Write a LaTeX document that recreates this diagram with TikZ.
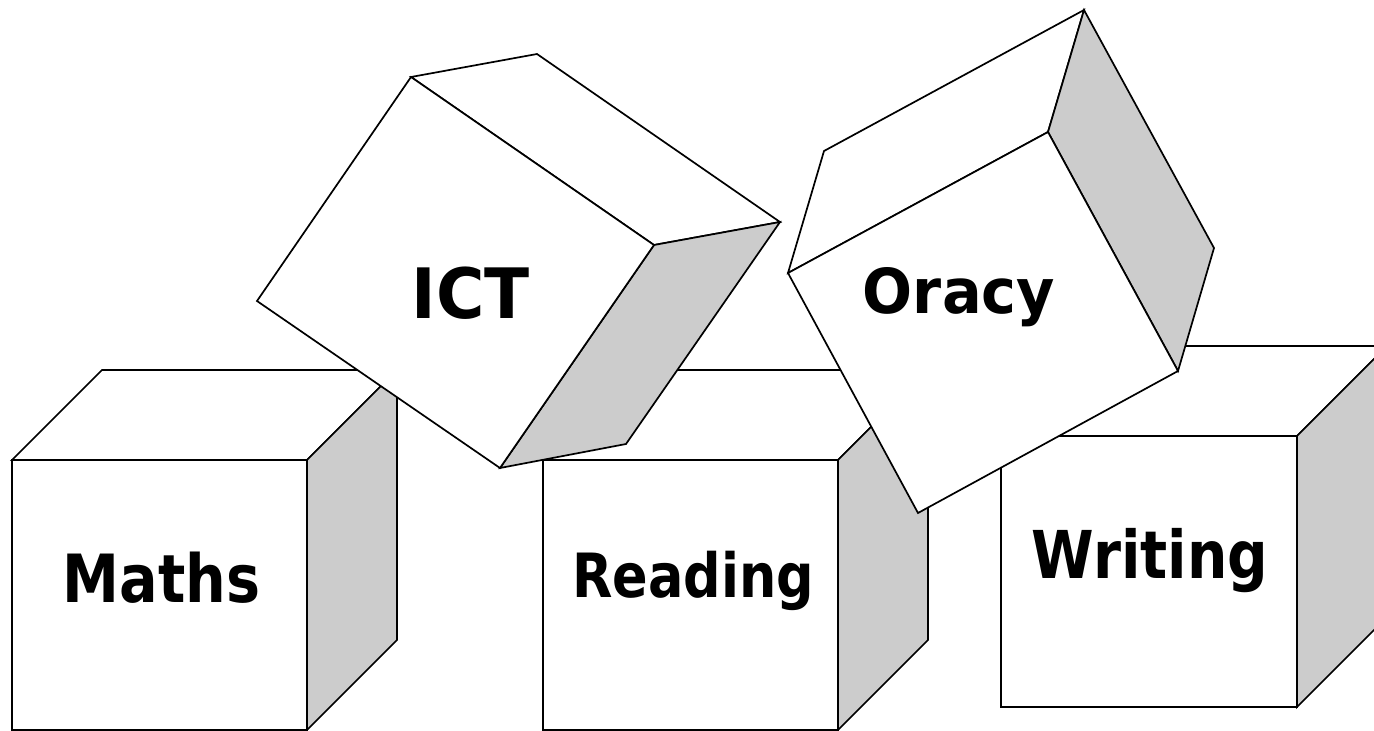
\documentclass[tikz,border=0pt]{standalone}
\usepackage{fontspec}
\newfontfamily\lblnarrow{DejaVu Sans}[FakeStretch=0.86]
\newfontfamily\lblwide{DejaVu Sans}[FakeStretch=0.95]
\definecolor{cubegray}{HTML}{CCCCCC}
\tikzset{
  face/.style={draw=black, line width=1.7pt, fill=white, line join=miter},
  sideface/.style={face, fill=cubegray},
  lbl/.style={anchor=base, inner sep=0pt, text=black},
}
\begin{document}
\begin{tikzpicture}[x=1pt,y=-1pt]
\useasboundingbox (0,0) rectangle (1374,731);
\clip (0,0) rectangle (1374,731);
\fill[white] (0,0) rectangle (1374,731);

% ---------- Maths cube ----------
\coordinate (m1) at (12,460);   \coordinate (m2) at (307,460);
\coordinate (m3) at (307,730);  \coordinate (m4) at (12,730);
\coordinate (m5) at (102,370);  \coordinate (m6) at (397,370);
\coordinate (m7) at (397,640);
\draw[face] (m1) -- (m5) -- (m6) -- (m2) -- cycle;
\draw[sideface] (m2) -- (m6) -- (m7) -- (m3) -- cycle;
\draw[face] (m1) -- (m2) -- (m3) -- (m4) -- cycle;
\node[lbl, font=\lblnarrow\bfseries\fontsize{66.5}{70}\selectfont] (maths) at (161.5,602) {Maths};

% ---------- Reading cube ----------
\coordinate (r1) at (543,460);  \coordinate (r2) at (838,460);
\coordinate (r3) at (838,730);  \coordinate (r4) at (543,730);
\coordinate (r5) at (633,370);  \coordinate (r6) at (928,370);
\coordinate (r7) at (928,640);
\draw[face] (r1) -- (r5) -- (r6) -- (r2) -- cycle;
\draw[sideface] (r2) -- (r6) -- (r7) -- (r3) -- cycle;
\draw[face] (r1) -- (r2) -- (r3) -- (r4) -- cycle;
\node[lbl, font=\lblnarrow\bfseries\fontsize{61}{64}\selectfont] (reading) at (693.5,597) {Reading};

% ---------- Writing cube ----------
\coordinate (w1) at (1001,436); \coordinate (w2) at (1297,436);
\coordinate (w3) at (1297,707); \coordinate (w4) at (1001,707);
\coordinate (w5) at (1091,346); \coordinate (w6) at (1387,346);
\coordinate (w7) at (1387,617);
\draw[face] (w1) -- (w5) -- (w6) -- (w2) -- cycle;
\draw[sideface] (w2) -- (w6) -- (w7) -- (w3) -- cycle;
\draw[face] (w1) -- (w2) -- (w3) -- (w4) -- cycle;
\node[lbl, font=\lblnarrow\bfseries\fontsize{66}{70}\selectfont] (writing) at (1150,578) {Writing};

% ---------- ICT cube (tilted) ----------
\coordinate (i1) at (411,77);   \coordinate (i2) at (654,245);
\coordinate (i3) at (500,468);  \coordinate (i4) at (257,301);
\coordinate (i5) at (537,54);   \coordinate (i6) at (780,222);
\coordinate (i7) at (626,444);
\draw[face] (i1) -- (i5) -- (i6) -- (i2) -- cycle;
\draw[sideface] (i2) -- (i6) -- (i7) -- (i3) -- cycle;
\draw[face] (i1) -- (i2) -- (i3) -- (i4) -- cycle;
\node[lbl, font=\lblwide\bfseries\fontsize{69.5}{72}\selectfont] (ict) at (471,318) {ICT};

% ---------- Oracy cube (tilted) ----------
\coordinate (o1) at (788,273);  \coordinate (o2) at (1048,132);
\coordinate (o3) at (1178,371); \coordinate (o4) at (918,513);
\coordinate (o5) at (824,151);  \coordinate (o6) at (1084,10);
\coordinate (o7) at (1214,248);
\draw[face] (o1) -- (o5) -- (o6) -- (o2) -- cycle;
\draw[sideface] (o2) -- (o6) -- (o7) -- (o3) -- cycle;
\draw[face] (o1) -- (o2) -- (o3) -- (o4) -- cycle;
\node[lbl, font=\lblwide\bfseries\fontsize{62}{65}\selectfont] (oracy) at (959,313) {Oracy};
\end{tikzpicture}
\end{document}
